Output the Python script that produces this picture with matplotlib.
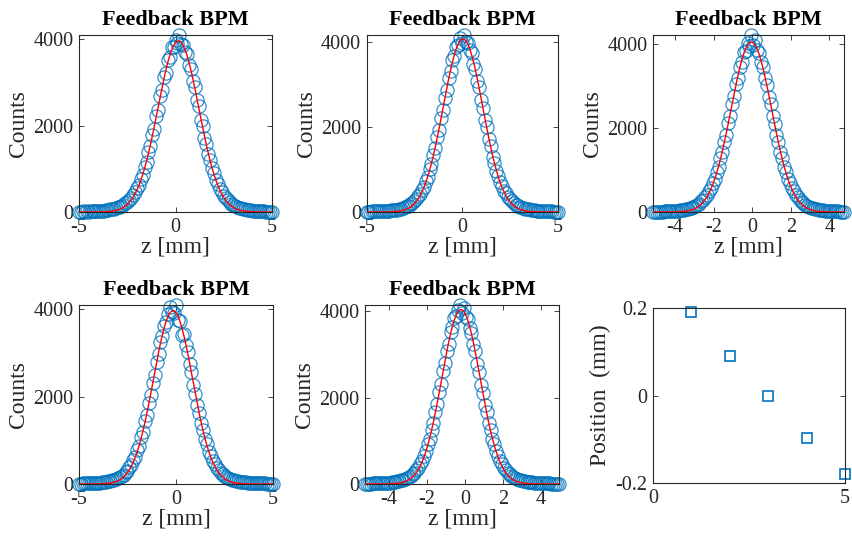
import numpy as np
import matplotlib.pyplot as plt

plt.rcParams['font.family'] = ['Liberation Serif', 'DejaVu Serif']
plt.rcParams['axes.unicode_minus'] = False

# BPM profile histograms: counts per bin, bins evenly spaced over [z_lo, z_hi]
counts_1 = [10, 7, 12, 9, 14, 11, 16, 14, 19, 17,
            24, 22, 30, 29, 38, 44, 59, 63, 80, 86,
            108, 117, 146, 160, 204, 226, 284, 318, 399, 452,
            556, 628, 771, 866, 1049, 1162, 1392, 1521, 1779, 1918,
            2226, 2372, 2688, 2815, 3128, 3230, 3512, 3580, 3810, 3822,
            3985, 3910, 4100, 3890, 3860, 3712, 3670, 3410, 3320, 3030,
            2905, 2595, 2450, 2140, 1990, 1705, 1565, 1340, 1205, 1010,
            895, 742, 651, 535, 470, 380, 334, 270, 238, 190,
            170, 136, 124, 100, 92, 74, 68, 55, 49, 38,
            34, 27, 25, 20, 17, 15, 12, 11, 9, 8, 10]
z_range_1 = (-5.0, 5.0)

counts_2 = [9, 11, 10, 13, 12, 15, 17, 19, 22, 24,
            27, 31, 33, 40, 43, 53, 57, 70, 78, 96,
            107, 131, 148, 184, 209, 262, 296, 370, 420, 521,
            590, 728, 826, 1003, 1125, 1341, 1513, 1772, 1937, 2218,
            2400, 2697, 2878, 3163, 3317, 3572, 3680, 3885, 3932, 4098,
            3992, 4170, 4007, 3985, 3814, 3743, 3498, 3374, 3097, 2933,
            2634, 2453, 2162, 1991, 1719, 1560, 1296, 1160, 968, 851,
            700, 612, 498, 436, 352, 310, 248, 219, 172, 155,
            124, 112, 89, 82, 65, 60, 48, 45, 37, 34,
            28, 26, 23, 20, 18, 16, 14, 12, 11, 10, 9]
z_range_2 = (-5.0, 5.0)

counts_3 = [7, 9, 8, 10, 11, 10, 13, 15, 16, 19,
            21, 24, 25, 30, 38, 47, 52, 66, 71, 90,
            100, 127, 141, 178, 199, 252, 286, 356, 405, 502,
            568, 699, 790, 958, 1078, 1287, 1430, 1672, 1838, 2110,
            2285, 2570, 2748, 3035, 3190, 3448, 3562, 3790, 3832, 4010,
            3948, 4205, 3965, 4080, 3840, 3770, 3560, 3440, 3180, 3020,
            2742, 2566, 2278, 2102, 1835, 1668, 1426, 1280, 1075, 955,
            792, 690, 572, 496, 408, 350, 288, 248, 202, 175,
            142, 124, 101, 88, 72, 64, 52, 47, 38, 31,
            26, 24, 20, 18, 17, 14, 13, 11, 10, 9]
z_range_3 = (-5.15, 4.75)

counts_4 = [11, 10, 12, 12, 15, 16, 18, 21, 22, 26,
            29, 33, 36, 45, 56, 60, 75, 81, 99, 110,
            135, 151, 190, 214, 268, 305, 382, 438, 545, 622,
            770, 876, 1065, 1198, 1430, 1590, 1852, 2030, 2315, 2502,
            2795, 2970, 3240, 3390, 3625, 3705, 3890, 4060, 3935, 3910,
            4095, 3760, 3730, 3420, 3440, 3180, 3025, 2740, 2555, 2262,
            2070, 1805, 1632, 1386, 1235, 1030, 905, 742, 645, 525,
            452, 366, 318, 255, 224, 181, 158, 128, 114, 95,
            84, 70, 63, 53, 48, 42, 36, 32, 29, 26,
            23, 21, 18, 17, 15, 13, 12, 11, 10, 9, 9]
z_range_4 = (-5.0, 5.0)

counts_5 = [8, 9, 10, 10, 12, 13, 14, 17, 18, 21,
            23, 27, 29, 34, 37, 48, 53, 63, 71, 86,
            97, 116, 130, 160, 184, 226, 262, 322, 375, 460,
            536, 660, 762, 921, 1052, 1262, 1420, 1668, 1850, 2130,
            2316, 2612, 2798, 3090, 3250, 3515, 3640, 3838, 3900, 4040,
            4150, 3960, 4075, 3880, 3830, 3615, 3502, 3240, 3078, 2790,
            2605, 2300, 2118, 1838, 1662, 1412, 1258, 1048, 920, 756,
            655, 532, 460, 372, 322, 260, 226, 183, 160, 129,
            115, 96, 86, 70, 63, 52, 48, 40, 36, 32,
            28, 25, 22, 20, 17, 15, 13, 12, 11, 10, 9, 9, 8]
z_range_5 = (-5.25, 4.95)

profiles = [(counts_1, z_range_1, [-5, 0, 5]),
            (counts_2, z_range_2, [-5, 0, 5]),
            (counts_3, z_range_3, [-4, -2, 0, 2, 4]),
            (counts_4, z_range_4, [-5, 0, 5]),
            (counts_5, z_range_5, [-4, -2, 0, 2, 4])]

# fitted beam centre for each run
run = [1, 2, 3, 4, 5]
position = [0.19, 0.09, 0.0, -0.097, -0.18]

blue = '#0072BD'
dark = '#262626'


def gauss_fit(z, c):
    # log-parabola fit on the core of the profile
    core = c > 0.2 * c.max()
    p = np.polyfit(z[core], np.log(c[core]), 2, w=np.sqrt(c[core]))
    sig2 = -1.0 / (2 * p[0])
    mu = p[1] * sig2
    amp = np.exp(p[2] + mu ** 2 / (2 * sig2))
    return amp, mu, np.sqrt(sig2)


def style(ax):
    for s in ax.spines.values():
        s.set_color(dark)
        s.set_linewidth(0.8)
    ax.tick_params(direction='in', top=True, right=True, length=3.5,
                   width=0.6, color=dark, labelcolor=dark, labelsize=14.5,
                   pad=4)


fig = plt.figure(figsize=(8.53, 5.44), dpi=100)

boxes = [[0.0926, 0.6103, 0.2263, 0.3254],
         [0.4297, 0.6103, 0.2239, 0.3254],
         [0.7655, 0.6103, 0.2239, 0.3254],
         [0.0926, 0.1103, 0.2274, 0.3290],
         [0.4279, 0.1103, 0.2274, 0.3290]]

for box, (counts, (z_lo, z_hi), xt) in zip(boxes, profiles):
    ax = fig.add_axes(box)
    c = np.array(counts, dtype=float)
    z = np.linspace(z_lo, z_hi, len(c))
    amp, mu, sig = gauss_fit(z, c)
    zf = np.linspace(z_lo, z_hi, 400)
    ax.plot(z, c, 'o', ms=9.5, mfc='none', mec=blue, mew=0.9, alpha=0.8,
            clip_on=False, zorder=2)
    ax.plot(zf, amp * np.exp(-(zf - mu) ** 2 / (2 * sig ** 2)), color='r',
            lw=1.0, zorder=3)
    ax.set_xlim(z_lo, z_hi)
    ax.set_ylim(0, c.max())
    ax.set_xticks(xt)
    ax.set_yticks([0, 2000, 4000])
    ax.set_title('Feedback BPM', fontsize=16, fontweight='bold', pad=7)
    ax.set_xlabel('z [mm]', fontsize=17, color=dark, labelpad=0)
    ax.set_ylabel('Counts', fontsize=17, color=dark, labelpad=3)
    style(ax)

ax = fig.add_axes([0.7655, 0.1121, 0.2251, 0.3217])
ax.plot(run, position, 's', ms=7.5, mfc='none', mec=blue, mew=1.2,
        clip_on=False)
ax.set_xlim(0, 5)
ax.set_ylim(-0.2, 0.2)
ax.set_xticks([0, 5])
ax.set_yticks([-0.2, 0, 0.2], labels=['-0.2', '0', '0.2'])
ax.set_ylabel('Position  (mm)', fontsize=17, color=dark, labelpad=3)
style(ax)

fig.savefig('out.png', dpi=100)
